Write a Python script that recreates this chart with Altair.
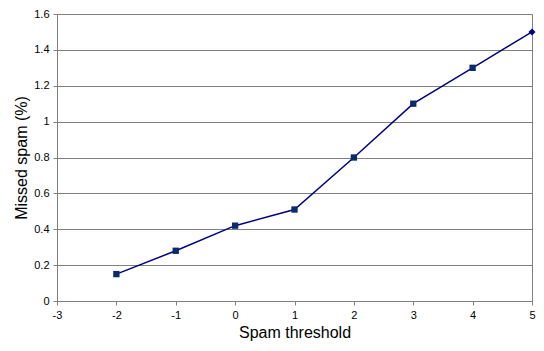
import altair as alt
import pandas as pd

thresholds = [-2, -1, 0, 1, 2, 3, 4, 5]
missed = [0.15, 0.28, 0.42, 0.51, 0.80, 1.10, 1.30, 1.50]
x_ticks = [-3, -2, -1, 0, 1, 2, 3, 4, 5]
y_ticks = [0, 0.2, 0.4, 0.6, 0.8, 1.0, 1.2, 1.4, 1.6]

df = pd.DataFrame({"t": thresholds, "m": missed})

FONT = "Liberation Sans"
LABEL_EXPR = "toString(datum.value)"

x = alt.X("t:Q", title="Spam threshold",
          scale=alt.Scale(domain=[-3, 5], nice=False, zero=False),
          axis=alt.Axis(values=x_ticks, tickCount=20, grid=False, tickSize=4, labelFontSize=11,
                        labelColor="black", labelFont=FONT, labelPadding=4,
                        labelOverlap=False, labelFlush=False, labelExpr=LABEL_EXPR,
                        domainColor="#808080", tickColor="#808080",
                        titleFontSize=16, titleFont=FONT, titleFontWeight="normal",
                        titleColor="black", titleY=36, titleBaseline="alphabetic"))
y = alt.Y("m:Q", title="Missed spam (%)",
          scale=alt.Scale(domain=[0, 1.6], nice=False),
          axis=alt.Axis(values=y_ticks, tickCount=20, grid=True, gridColor="#808080", gridWidth=1,
                        tickSize=4, labelFontSize=11, labelColor="black", labelFont=FONT,
                        labelPadding=4, labelOverlap=False, labelFlush=False,
                        labelExpr=LABEL_EXPR,
                        domainColor="#808080", tickColor="#808080",
                        titleFontSize=16, titleFont=FONT, titleFontWeight="normal",
                        titleColor="black", titleX=-36, titleBaseline="middle"))

base = alt.Chart(df)
line = base.mark_line(color="#000080", strokeWidth=1.5).encode(x=x, y=y)
squares = base.transform_filter("datum.t < 5").mark_point(
    shape="square", filled=True, size=40, color="#0a2a6a", opacity=1).encode(x="t:Q", y="m:Q")
diamond = base.transform_filter("datum.t >= 5").mark_point(
    shape="diamond", filled=True, size=50, color="#00008b", opacity=1).encode(x="t:Q", y="m:Q")

chart = alt.layer(line, squares, diamond).properties(
    width=475, height=287,
    autosize=alt.AutoSizeParams(type="none"),
    padding={"left": 49, "top": 6, "right": 4, "bottom": 40},
    background="white",
).configure_view(stroke="#808080", strokeWidth=1)

chart.save("out.html", embed_options={"renderer": "svg", "actions": False})
